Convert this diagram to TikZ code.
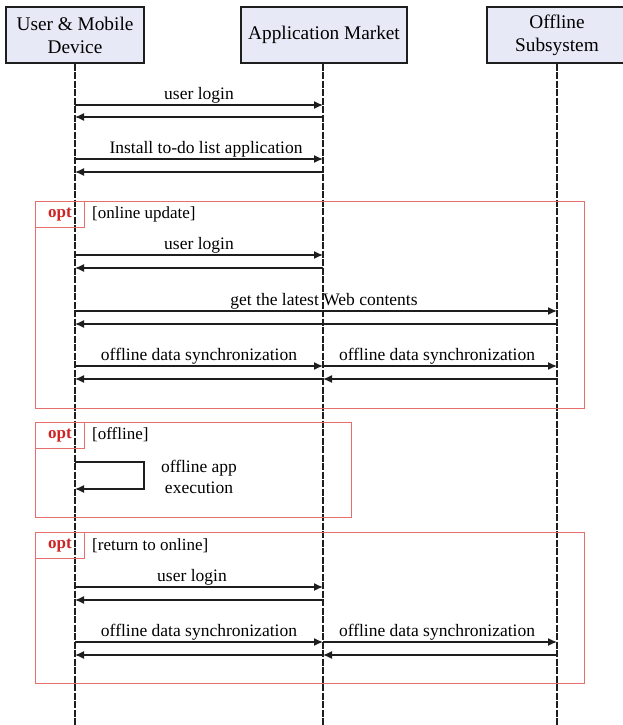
\documentclass[tikz,border=0pt]{standalone}
\usepackage{fontspec}
\setmainfont{Liberation Serif}
\usetikzlibrary{arrows.meta}

\definecolor{headfill}{RGB}{231,234,246}
\definecolor{inkgray}{RGB}{30,30,30}
\definecolor{framered}{RGB}{232,110,110}
\definecolor{optred}{RGB}{205,35,35}

\tikzset{
  actor/.style={draw=inkgray, line width=1.3pt, fill=headfill, align=center,
    minimum height=56pt, inner sep=2pt,
    font=\fontsize{19.3}{23}\selectfont},
  lifeline/.style={draw=inkgray, line width=1.4pt, dash pattern=on 7pt off 1.5pt},
  msg/.style={draw=inkgray, line width=1.4pt, -{Latex[length=9pt,width=8pt]}},
  msglabel/.style={anchor=base, inner sep=0pt, font=\fontsize{17.5}{20}\selectfont},
  frame/.style={draw=framered, line width=1pt},
  optbox/.style={draw=framered, line width=1pt, minimum width=49pt, minimum height=26pt,
    inner sep=0pt, anchor=north west, text=optred,
    font=\fontsize{17}{20}\selectfont\bfseries},
  guard/.style={anchor=west, inner sep=0pt, font=\fontsize{17}{20}\selectfont},
}

\begin{document}
\begin{tikzpicture}[x=1pt, y=-1pt]
\useasboundingbox (0,0) rectangle (622,725);
\fill[white] (0,0) rectangle (622,725);

% participants
\node[actor, minimum width=138pt] (dev) at (75,35) {User \& Mobile\\Device};
\node[actor, minimum width=166pt] (mkt) at (324,35) {Application Market};
\node[actor, minimum width=140pt] (off) at (557,35) {Offline\\Subsystem};

% lifelines
\coordinate (devEnd) at (75,725);
\coordinate (mktEnd) at (323,725);
\coordinate (offEnd) at (557,725);
\draw[lifeline] (dev.south) -- (devEnd);
\draw[lifeline] (mkt.south -| mktEnd) -- (mktEnd);
\draw[lifeline] (off.south) -- (offEnd);

% combined fragments
\draw[frame] (35,201) rectangle (584,408);
\node[optbox] (opt1) at (35,201) {opt};
\node[guard] (g1) at (92,214) {[online update]};

\draw[frame] (35,422) rectangle (351,517);
\node[optbox] (opt2) at (35,422) {opt};
\node[guard] (g2) at (92,435) {[offline]};

\draw[frame] (35,532) rectangle (584,683);
\node[optbox] (opt3) at (35,532) {opt};
\node[guard] (g3) at (92,546) {[return to online]};

% message end points on the lifelines
\foreach \y/\n in {105/a,117/b,159/c,172/d,255/e,268/f,311/g,324/h,366/i,379/j,587/k,600/l,642/m,655/n}{
  \coordinate (d\n) at (75,\y);
  \coordinate (m\n) at (323,\y);
  \coordinate (o\n) at (557,\y);
}

% login and install
\draw[msg] (da) -- (ma) node[msglabel, midway, yshift=6pt] {user login};
\draw[msg] (mb) -- (db);
\draw[msg] (dc) -- (mc) node[msglabel, midway, yshift=6pt, xshift=7pt] {Install to-do list application};
\draw[msg] (md) -- (dd);

% online update
\draw[msg] (de) -- (me) node[msglabel, midway, yshift=6pt] {user login};
\draw[msg] (mf) -- (df);
\draw[msg] (dg) -- (og) node[msglabel, midway, yshift=6pt, xshift=8pt] {get the latest Web contents};
\draw[msg] (oh) -- (dh);
\draw[msg] (di) -- (mi) node[msglabel, midway, yshift=6pt] {offline data synchronization};
\draw[msg] (mi) -- (oi) node[msglabel, midway, yshift=6pt, xshift=-3pt] {offline data synchronization};
\draw[msg] (oj) -- (mj);
\draw[msg] (mj) -- (dj);

% offline execution (self message)
\coordinate (loopA) at (75,462);
\coordinate (loopB) at (75,489);
\draw[msg] (loopA) -- ++(69,0) -- ++(0,27) -- (loopB);
\node[align=center, inner sep=0pt, font=\fontsize{17.5}{21}\selectfont] (loopLbl) at (199,477)
  {offline app\\execution};

% return to online
\draw[msg] (dk) -- (mk) node[msglabel, midway, yshift=6pt, xshift=-7pt] {user login};
\draw[msg] (ml) -- (dl);
\draw[msg] (dm) -- (mm) node[msglabel, midway, yshift=6pt] {offline data synchronization};
\draw[msg] (mm) -- (om) node[msglabel, midway, yshift=6pt, xshift=-3pt] {offline data synchronization};
\draw[msg] (on) -- (mn);
\draw[msg] (mn) -- (dn);
\end{tikzpicture}
\end{document}
